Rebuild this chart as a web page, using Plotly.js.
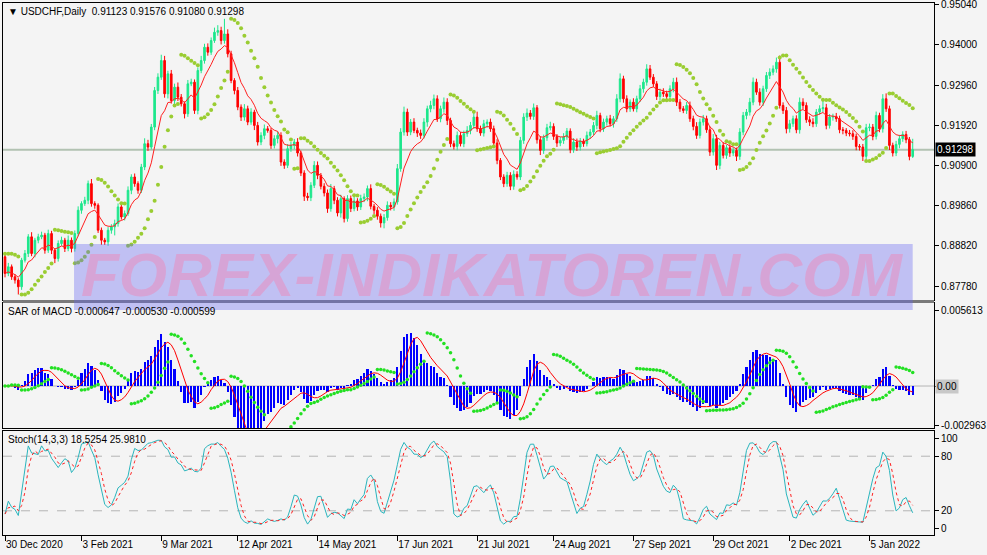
<!DOCTYPE html>
<html><head><meta charset="utf-8">
<script src="https://cdn.plot.ly/plotly-3.0.1.min.js"></script>
<style>html,body{margin:0;padding:0;background:#f4f4f4}#chart{width:987px;height:555px}</style>
</head><body><div id="chart"></div>
<script>
// ---- data (USDCHF daily closes) ----
const closes = [
0.88105,0.88277,0.88019,0.87934,0.87762,0.88448,0.88620,0.89049,0.88620,0.88963,
0.89049,0.89092,0.88705,0.89134,0.88705,0.88491,0.88877,0.88963,0.88748,0.88963,
0.88748,0.89134,0.89735,0.89907,0.89992,0.90421,0.89907,0.89864,0.89220,0.88963,
0.88920,0.89220,0.89306,0.89392,0.89821,0.89563,0.89649,0.90250,0.90593,0.90421,
0.90250,0.90850,0.91451,0.91365,0.91880,0.92824,0.93167,0.93596,0.92738,0.93253,
0.92566,0.92910,0.92652,0.92481,0.92223,0.92995,0.93038,0.92309,0.93339,0.93596,
0.93939,0.93811,0.94111,0.94325,0.94368,0.94111,0.94282,0.93768,0.93081,0.92824,
0.92395,0.92137,0.92352,0.92009,0.92266,0.91923,0.91494,0.91666,0.91837,0.91794,
0.91408,0.91580,0.91666,0.90979,0.90893,0.91322,0.91408,0.91494,0.91211,0.90696,
0.90095,0.90061,0.90378,0.90893,0.90636,0.90353,0.90181,0.89778,0.90293,0.89992,
0.89666,0.90035,0.89520,0.90035,0.89778,0.89975,0.89821,0.90035,0.90078,0.90293,
0.89838,0.89735,0.89581,0.89409,0.89546,0.89864,0.89821,0.89950,0.90808,0.91751,
0.92266,0.91751,0.92009,0.91794,0.91726,0.91666,0.92009,0.92352,0.92438,0.92609,
0.92094,0.92352,0.92523,0.92052,0.91451,0.91382,0.91666,0.91451,0.91709,0.91794,
0.91923,0.92137,0.91837,0.91726,0.91966,0.92009,0.91837,0.91468,0.91022,0.90593,
0.90421,0.90636,0.90353,0.90662,0.90593,0.91537,0.92137,0.92240,0.92155,0.92378,
0.91554,0.91279,0.91605,0.91863,0.91897,0.91640,0.91468,0.91537,0.91623,0.91777,
0.91297,0.91494,0.91365,0.91520,0.91451,0.91666,0.91751,0.91923,0.92180,0.91837,
0.92009,0.92094,0.91966,0.92094,0.92609,0.93124,0.92609,0.92352,0.92523,0.92352,
0.92609,0.92867,0.93038,0.93381,0.93167,0.92995,0.92669,0.92781,0.92738,0.92669,
0.92867,0.93038,0.92523,0.92352,0.92309,0.92438,0.92094,0.91897,0.91666,0.92009,
0.92094,0.91811,0.91236,0.91580,0.90893,0.91408,0.91151,0.91348,0.91211,0.91279,
0.91125,0.91751,0.92180,0.92266,0.92523,0.93038,0.92781,0.92523,0.92867,0.93210,
0.93296,0.93381,0.93553,0.92438,0.92309,0.91837,0.91966,0.92094,0.91811,0.92523,
0.92438,0.92069,0.92009,0.91966,0.92266,0.92352,0.92378,0.91923,0.92137,0.92155,
0.92094,0.91811,0.91794,0.91726,0.91709,0.91640,0.91382,0.91365,0.91125,0.91863,
0.91880,0.91640,0.92180,0.91837,0.92609,0.92352,0.91408,0.91211,0.91434,0.91580,
0.91691,0.91554,0.91123,0.91298];
const firstOpen = 0.88534;
// upper / lower shadow lengths in pips (0.0001)
const upperWickPips = [
8,10,6,7,5,6,9,7,12,6, 8,9,6,10,7,5,8,9,6,12, 7,8,10,6,9,8,12,6,5,7, 6,8,7,10,9,6,8,10,7,9,
6,8,14,10,8,9,10,15,12,8, 10,9,12,8,6,10,9,7,8,12, 9,10,8,12,14,10,39,12,8,6, 9,7,12,8,10,6,9,8,11,7,
6,9,10,8,7,12,9,8,10,6, 7,9,8,11,10,6,8,9,12,7, 8,10,6,9,8,12,7,10,9,8, 11,6,8,7,9,10,8,9,12,10,
14,9,8,10,7,9,10,8,12,11, 9,8,12,10,7,8,10,9,8,11, 9,12,14,8,10,7,9,8,10,6, 7,9,8,10,8,9,10,12,8,11,
7,9,8,10,12,8,6,9,10,8, 7,10,9,8,6,10,8,9,12,7, 9,8,10,7,12,14,8,9,7,10, 8,10,9,12,10,8,7,9,10,8,
9,11,12,8,7,9,10,8,11,9, 10,8,9,12,10,9,8,7,9,8, 7,10,9,8,11,12,9,10,8,9, 10,9,12,17,8,9,10,8,9,12,
10,8,9,10,8,9,20,10,8,7, 9,8,7,6,8,9,7,6,8,10, 9,8,10,7,12,14,8,7,9,10, 8,9,7,28];
const lowerWickPips = [
10,7,8,9,20,8,6,9,7,10, 8,6,9,7,10,12,8,6,9,7, 10,8,7,9,6,10,8,9,7,12, 8,10,9,22,8,7,9,6,10,8,
9,7,8,10,6,8,9,7,10,12, 8,9,10,7,12,8,6,9,10,7, 8,9,7,6,9,10,8,9,7,10, 8,10,9,8,7,12,9,8,10,6,
9,8,12,10,9,7,8,10,9,8, 12,8,9,7,10,8,9,11,8,10, 9,12,10,8,9,7,10,8,9,11, 8,10,9,12,14,8,9,10,7,8,
9,10,8,7,10,9,8,12,9,10, 8,9,10,12,9,8,10,7,9,8, 10,9,8,7,9,10,8,9,10,8, 9,8,10,9,7,8,9,10,8,9,
10,12,9,8,7,9,10,8,9,7, 9,8,10,9,8,7,9,8,10,9, 8,9,7,10,8,9,10,9,8,7, 9,8,10,9,7,8,9,10,8,9,
8,9,10,8,7,9,8,10,9,8, 9,8,10,9,12,10,8,9,10,8, 12,9,8,10,9,8,7,9,10,8, 9,8,10,8,9,12,10,8,9,10,
9,8,10,9,8,7,9,10,8,9, 8,9,10,8,7,9,10,9,12,8, 9,10,8,9,10,8,12,9,8,10, 8,9,10,4];
const dateTickIdx  = [0,23,47,70,94,118,142,165,189,213,236,260];
const dateTickText = ['30 Dec 2020','3 Feb 2021','9 Mar 2021','12 Apr 2021','14 May 2021','17 Jun 2021',
                      '21 Jul 2021','24 Aug 2021','27 Sep 2021','29 Oct 2021','2 Dec 2021','5 Jan 2022'];
const priceTicks = [0.87780,0.88820,0.89860,0.90900,0.91920,0.92960,0.94000,0.95040];
const macdTicks  = [0.005613,0,-0.002963];
const macdTickText = ['0.005613','','-0.002963'];
const stochTicks = [100,80,20,0];
const headerMain  = '\u25BC USDCHF,Daily  0.91123 0.91576 0.91080 0.91298';
const headerMacd  = 'SAR of MACD -0.000647 -0.000530 -0.000599';
const headerStoch = 'Stoch(14,3,3) 18.5254 25.9810';
const watermark   = 'FOREX-INDIKATOREN.COM';

// ---- build OHLC ----
const N = closes.length;
const idx = closes.map((_, i) => i);
const opens = closes.map((c, i) => i === 0 ? firstOpen : closes[i - 1]);
const highs = closes.map((c, i) => Math.max(c, opens[i]) + upperWickPips[i] / 10000);
const lows  = closes.map((c, i) => Math.min(c, opens[i]) - lowerWickPips[i] / 10000);

// ---- indicators ----
function ema(arr, p) { const a = 2 / (p + 1); const out = []; arr.forEach((v, i) => out.push(i === 0 ? v : out[i - 1] + a * (v - out[i - 1]))); return out; }
function sma(arr, p) { return arr.map((v, i) => { const s = Math.max(0, i - p + 1); let t = 0; for (let j = s; j <= i; j++) t += arr[j]; return t / (i - s + 1); }); }
function psar(h, l, step, mx, startUp) {
  const out = [], n = h.length; let up = startUp, af = step;
  let ep = up ? h[0] : l[0], sar = up ? l[0] : h[0]; out.push(sar);
  for (let i = 1; i < n; i++) {
    sar = sar + af * (ep - sar);
    if (up) {
      sar = Math.min(sar, l[i - 1], i > 1 ? l[i - 2] : l[i - 1]);
      if (l[i] < sar) { up = false; sar = ep; ep = l[i]; af = step; }
      else if (h[i] > ep) { ep = h[i]; af = Math.min(af + step, mx); }
    } else {
      sar = Math.max(sar, h[i - 1], i > 1 ? h[i - 2] : h[i - 1]);
      if (h[i] > sar) { up = true; sar = ep; ep = h[i]; af = step; }
      else if (l[i] < ep) { ep = l[i]; af = Math.min(af + step, mx); }
    }
    out.push(sar);
  }
  return out;
}
const ma = ema(closes, 8);
const sarPrice = psar(highs, lows, 0.02, 0.2, false);
const e12 = ema(closes, 12), e26 = ema(closes, 26);
const macdMain = closes.map((_, i) => e12[i] - e26[i]);
const macdSig = sma(macdMain, 9);
const hist = macdMain.map((v, i) => v - macdSig[i]);
const histLine = sma(hist, 5);
const sarMacd = psar(hist, hist, 0.02, 0.2, false);
const rawNum = [], rawDen = [];
for (let i = 0; i < N; i++) {
  const s = Math.max(0, i - 13); let hh = -1e9, ll = 1e9;
  for (let j = s; j <= i; j++) { hh = Math.max(hh, highs[j]); ll = Math.min(ll, lows[j]); }
  rawNum.push(closes[i] - ll); rawDen.push(hh - ll);
}
const stochK = closes.map((_, i) => { let a = 0, b = 0; for (let j = Math.max(0, i - 2); j <= i; j++) { a += rawNum[j]; b += rawDen[j]; } return b > 0 ? 100 * a / b : 50; });
const stochD = sma(stochK, 3);

// ---- traces ----
const FONT = 'Liberation Sans, Arial, sans-serif';
const traces = [
  { type: 'candlestick', x: idx, open: opens, high: highs, low: lows, close: closes, xaxis: 'x', yaxis: 'y',
    increasing: { line: { color: '#1de78c', width: 1 }, fillcolor: '#1de78c' },
    decreasing: { line: { color: '#ff0000', width: 1 }, fillcolor: '#ff0000' },
    whiskerwidth: 0, hoverinfo: 'skip', showlegend: false },
  { type: 'scatter', mode: 'lines', x: idx, y: ma, xaxis: 'x', yaxis: 'y', line: { color: '#ff2020', width: 1 }, hoverinfo: 'skip', showlegend: false },
  { type: 'scatter', mode: 'markers', x: idx, y: sarPrice, xaxis: 'x', yaxis: 'y', marker: { color: '#9acd32', size: 4, symbol: 'circle' }, hoverinfo: 'skip', showlegend: false },
  { type: 'bar', x: idx, y: hist, xaxis: 'x2', yaxis: 'y2', marker: { color: '#0000ff', line: { width: 0 } }, width: 0.65, hoverinfo: 'skip', showlegend: false },
  { type: 'scatter', mode: 'lines', x: idx, y: histLine, xaxis: 'x2', yaxis: 'y2', line: { color: '#ff0000', width: 1 }, hoverinfo: 'skip', showlegend: false },
  { type: 'scatter', mode: 'markers', x: idx, y: sarMacd, xaxis: 'x2', yaxis: 'y2', marker: { color: '#22e022', size: 3.5 }, hoverinfo: 'skip', showlegend: false },
  { type: 'scatter', mode: 'lines', x: idx, y: stochK, xaxis: 'x3', yaxis: 'y3', line: { color: '#2ab5bd', width: 1 }, hoverinfo: 'skip', showlegend: false },
  { type: 'scatter', mode: 'lines', x: idx, y: stochD, xaxis: 'x3', yaxis: 'y3', line: { color: '#ff2020', width: 1, dash: 'dot' }, hoverinfo: 'skip', showlegend: false }
];

const xr = [-0.6, N - 1 + 6.4];
const xBase = { range: xr, showgrid: false, zeroline: false, showline: true, mirror: true, linecolor: '#000', linewidth: 1, fixedrange: true };
const yBase = { side: 'right', showgrid: false, zeroline: false, showline: true, mirror: true, linecolor: '#000', linewidth: 1, ticklabeloverflow: 'allow',
  ticks: 'outside', ticklen: 4, tickcolor: '#000', tickfont: { family: FONT, size: 10, color: '#000' }, fixedrange: true };
const last = N - 1;
const layout = {
  width: 987, height: 555, margin: { l: 3, r: 53, t: 3, b: 20 },
  paper_bgcolor: '#f4f4f4', plot_bgcolor: '#f4f4f4', showlegend: false,
  xaxis:  Object.assign({}, xBase, { anchor: 'y',  showticklabels: false, ticks: '', rangeslider: { visible: false } }),
  xaxis2: Object.assign({}, xBase, { anchor: 'y2', matches: 'x', showticklabels: false, ticks: '' }),
  xaxis3: Object.assign({}, xBase, { anchor: 'y3', matches: 'x', tickmode: 'array', tickvals: dateTickIdx, ticktext: dateTickText,
    ticks: 'outside', ticklen: 5, tickcolor: '#000', ticklabelposition: 'outside right', tickfont: { family: FONT, size: 10, color: '#000' } }),
  yaxis:  Object.assign({}, yBase, { anchor: 'x',  domain: [0.4417, 1], range: [0.8742, 0.9508], tickmode: 'array', tickvals: priceTicks, ticktext: priceTicks.map(v => v.toFixed(5)) }),
  yaxis2: Object.assign({}, yBase, { anchor: 'x2', domain: [0.2011, 0.4361], range: [-0.00314, 0.00621], tickmode: 'array', tickvals: macdTicks, ticktext: macdTickText }),
  yaxis3: Object.assign({}, yBase, { anchor: 'x3', domain: [0, 0.1955], range: [-6.6, 107.7], tickmode: 'array', tickvals: stochTicks, ticktext: stochTicks.map(String) }),
  bargap: 0,
  shapes: [
    { type: 'line', xref: 'x domain', yref: 'y', x0: 0, x1: 1, y0: closes[last], y1: closes[last], line: { color: '#b2c2b2', width: 2 }, layer: 'below' },
    { type: 'line', xref: 'x2 domain', yref: 'y2', x0: 0, x1: 1, y0: 0, y1: 0, line: { color: '#b4b4b4', width: 1 }, layer: 'below' },
    { type: 'line', xref: 'x3 domain', yref: 'y3', x0: 0, x1: 1, y0: stochTicks[1], y1: stochTicks[1], line: { color: '#b4b4b4', width: 1, dash: 'dash' }, layer: 'below' },
    { type: 'line', xref: 'x3 domain', yref: 'y3', x0: 0, x1: 1, y0: stochTicks[2], y1: stochTicks[2], line: { color: '#b4b4b4', width: 1, dash: 'dash' }, layer: 'below' },
    { type: 'rect', xref: 'paper', yref: 'paper', x0: 0, x1: 1, y0: 0.4361, y1: 0.4417, fillcolor: '#7a7a7a', line: { width: 0 } },
    { type: 'rect', xref: 'paper', yref: 'paper', x0: 0.0763, x1: 0.9771, y0: 0.423, y1: 0.547, fillcolor: 'rgba(100,100,240,0.36)', line: { width: 0 }, layer: 'above' }
  ],
  annotations: [
    { xref: 'paper', yref: 'paper', x: 0.003, y: 0.998, xanchor: 'left', yanchor: 'top', text: headerMain, showarrow: false, font: { family: FONT, size: 10, color: '#000' } },
    { xref: 'paper', yref: 'paper', x: 0.003, y: 0.4343, xanchor: 'left', yanchor: 'top', text: headerMacd, showarrow: false, font: { family: FONT, size: 10, color: '#000' } },
    { xref: 'paper', yref: 'paper', x: 0.003, y: 0.1939, xanchor: 'left', yanchor: 'top', text: headerStoch, showarrow: false, font: { family: FONT, size: 10, color: '#000' } },
    { xref: 'paper', yref: 'y', x: 1, xanchor: 'left', xshift: 1, y: closes[last], text: closes[last].toFixed(5), showarrow: false, bgcolor: '#000', borderpad: 1, font: { family: FONT, size: 10, color: '#fff' } },
    { xref: 'paper', yref: 'y2', x: 1, xanchor: 'left', xshift: 1, y: 0, text: '0.00', showarrow: false, bgcolor: '#c8c8c8', borderpad: 1, font: { family: FONT, size: 10, color: '#000' } },
    { xref: 'paper', yref: 'paper', x: 0.5255, y: 0.4905, xanchor: 'center', yanchor: 'middle', height: 50, valign: 'middle', text: '<i><b>' + watermark + '</b></i>', showarrow: false, font: { family: FONT, size: 62, color: '#d6a4d6' } }
  ]
};
Plotly.newPlot('chart', traces, layout, { staticPlot: true, displayModeBar: false });
</script></body></html>
